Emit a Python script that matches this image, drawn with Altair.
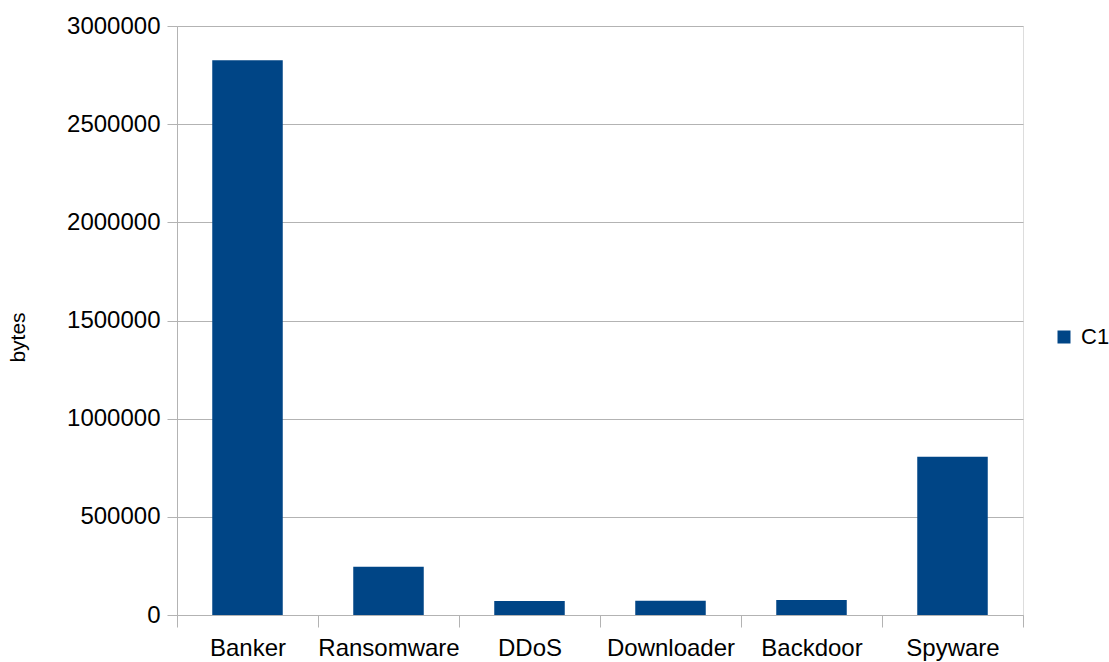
import altair as alt
import pandas as pd

categories = ["Banker", "Ransomware", "DDoS", "Downloader", "Backdoor", "Spyware"]
values = [2826000, 246000, 71000, 73000, 76000, 806000]
series = ["C1"] * len(categories)
y_ticks = [0, 500000, 1000000, 1500000, 2000000, 2500000, 3000000]

df = pd.DataFrame({"category": categories, "bytes": values, "series": series})

GRAY = "#b3b3b3"
FONT = "Liberation Sans"

chart = (
    alt.Chart(df)
    .mark_bar(width=alt.RelativeBandSize(0.5), color="#004586")
    .encode(
        x=alt.X(
            "category:N",
            sort=categories,
            scale=alt.Scale(paddingInner=0, paddingOuter=0),
            axis=alt.Axis(
                title=None,
                labelAngle=0,
                labelFontSize=24,
                labelFont=FONT,
                labelColor="#000000",
                labelPadding=9,
                tickBand="extent",
                tickSize=12,
                tickColor=GRAY,
                domainColor=GRAY,
                grid=False,
            ),
        ),
        y=alt.Y(
            "bytes:Q",
            scale=alt.Scale(domain=[0, 3000000], nice=False),
            axis=alt.Axis(
                title="bytes",
                values=y_ticks,
                format="d",
                labelFontSize=24,
                labelFont=FONT,
                labelColor="#000000",
                labelPadding=7,
                tickSize=10,
                tickColor=GRAY,
                domainColor=GRAY,
                gridColor=GRAY,
                titleFont=FONT,
                titleFontSize=21,
                titleFontWeight="normal",
                titleColor="#000000",
                titleAngle=270,
                titleAlign="center",
                titleBaseline="middle",
                titleX=-159,
                titleY=311,
            ),
        ),
        color=alt.Color(
            "series:N",
            scale=alt.Scale(range=["#004586"]),
            legend=alt.Legend(
                title=None,
                orient="none",
                legendX=876,
                legendY=300,
                symbolType="square",
                symbolSize=169,
                symbolStrokeWidth=0,
                labelFont=FONT,
                labelFontSize=22,
                labelColor="#000000",
                labelOffset=6,
            ),
        ),
    )
    .properties(
        width=846,
        height=589,
        autosize=alt.AutoSizeParams(type="none"),
        padding={"left": 177, "top": 26, "right": 86, "bottom": 47},
    )
    .configure_view(stroke=GRAY)
    .configure(background="white")
)

chart.save("out.html", embed_options={"renderer": "svg", "actions": False})
